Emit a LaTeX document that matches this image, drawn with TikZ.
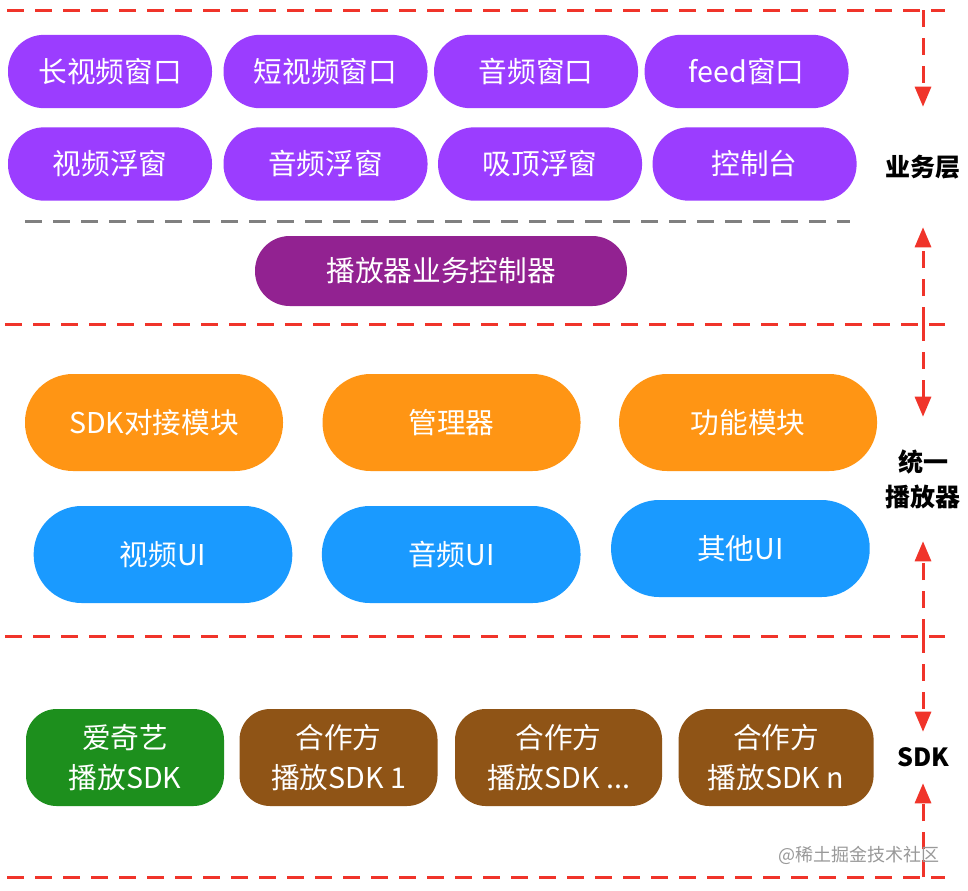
\documentclass[tikz,border=0pt]{standalone}
\usepackage{fontspec}
\setmainfont{Noto Sans CJK SC}
\usepackage{xcolor}
\usepackage{tikz}
\usetikzlibrary{arrows.meta, positioning}
\definecolor{bizpurple}{RGB}{155, 61, 255}
\definecolor{ctrlpurple}{RGB}{146, 34, 145}
\definecolor{coreorange}{RGB}{255, 149, 20}
\definecolor{uiblue}{RGB}{26, 154, 255}
\definecolor{iqgreen}{RGB}{29, 143, 29}
\definecolor{partnerbrown}{RGB}{143, 84, 22}
\definecolor{dashred}{RGB}{240, 52, 42}
\definecolor{dashgrey}{RGB}{128, 128, 128}

\begin{document}
\begin{tikzpicture}[x=0.75pt, y=-0.75pt,
    every node/.style={font=\fontsize{21.5}{30}\selectfont, text=white},
    pill/.style={rectangle, rounded corners=#1, inner sep=0pt, align=center},
    bizbox/.style={pill=27pt, fill=bizpurple, minimum width=153pt, minimum height=55pt},
    ctrlbox/.style={pill=26pt, fill=ctrlpurple, minimum width=279pt, minimum height=52.5pt},
    corebox/.style={pill=36pt, fill=coreorange, minimum width=193.5pt, minimum height=72.75pt},
    uibox/.style={pill=36pt, fill=uiblue, minimum width=194pt, minimum height=72.75pt},
    sdkbox/.style={pill=23pt, fill=partnerbrown, minimum width=148.5pt, minimum height=72.75pt},
    layerlabel/.style={inner sep=0pt, align=center, text=black, font=\bfseries\fontsize{18.75}{26.25}\selectfont},
    layerline/.style={draw=dashred, line width=2.25pt, dash pattern=on 12.75pt off 8.25pt},
    layerarrow/.style={layerline, -{Triangle[length=15pt, width=12pt]}}
]
\fill[white] (0,0) rectangle (968,890);
\useasboundingbox (0,0) rectangle (968,890);

% layer boundaries
\coordinate (l0w) at (7,10);  \coordinate (l0e) at (945,10);
\coordinate (l1w) at (5,324); \coordinate (l1e) at (945,324);
\coordinate (l2w) at (5,636); \coordinate (l2e) at (945,636);
\coordinate (l3w) at (7,877); \coordinate (l3e) at (945,877);
\draw[layerline] (l0w) -- (l0e);
\draw[layerline] (l1w) -- (l1e);
\draw[layerline] (l2w) -- (l2e);
\draw[layerline] (l3w) -- (l3e);

% business layer: windows
\node[bizbox] (w1) at (110,71.5) {长视频窗口};
\node[bizbox, right=8.25pt of w1] (w2) {短视频窗口};
\node[bizbox, right=4.5pt of w2] (w3) {音频窗口};
\node[bizbox, right=4.5pt of w3] (w4) {feed窗口};

% business layer: floating windows
\node[bizbox] (f1) at (110,164) {视频浮窗};
\node[bizbox, right=8.25pt of f1] (f2) {音频浮窗};
\node[bizbox, right=7.5pt of f2] (f3) {吸顶浮窗};
\node[bizbox, right=7.5pt of f3] (f4) {控制台};

\coordinate (gw) at (25,221); \coordinate (ge) at (850,221);
\draw[draw=dashgrey, line width=2.25pt, dash pattern=on 12.75pt off 8.25pt] (gw) -- (ge);

\node[ctrlbox] (ctrl) at (441,271) {播放器业务控制器};

% unified player: modules
\node[corebox] (m1) at (154,422.5) {SDK对接模块};
\node[corebox, right=29.25pt of m1] (m2) {管理器};
\node[corebox, right=28.5pt of m2] (m3) {功能模块};

% unified player: UI
\node[uibox] (u1) at (163,554.5) {视频UI};
\node[uibox, right=21.75pt of u1] (u2) {音频UI};
\node[uibox, right=22.5pt of u2, yshift=4.5pt] (u3) {其他UI};

% SDK layer
\node[sdkbox, fill=iqgreen] (s1) at (125,757.5) {爱奇艺\\播放SDK};
\node[sdkbox, right=11.25pt of s1] (s2) {合作方\\播放SDK 1};
\node[sdkbox, right=12.75pt of s2, minimum width=155.25pt] (s3) {合作方\\播放SDK ...};
\node[sdkbox, right=12pt of s3, minimum width=146.25pt] (s4) {合作方\\播放SDK n};

% layer labels and arrows
\node[layerlabel, minimum height=90pt] (lb1) at (923,167) {业务层};
\node[layerlabel, minimum height=93pt] (lb2) at (923,479) {统一\\播放器};
\node[layerlabel, minimum height=38.25pt] (lb3) at (923,757.5) {SDK};
\coordinate (v0) at (923,10);
\coordinate (v1) at (923,324);
\coordinate (v2) at (923,636);
\coordinate (v3) at (923,877);
\draw[layerarrow] (v0) -- (lb1.north);
\draw[layerarrow] (v1) -- (lb1.south);
\draw[layerarrow] (v1) -- (lb2.north);
\draw[layerarrow] (v2) -- (lb2.south);
\draw[layerarrow] (v2) -- (lb3.north);
\draw[layerarrow] (v3) -- (lb3.south);

\node[text=black!40, font=\fontsize{13.5}{16}\selectfont] (wm) at (859,855) {@稀土掘金技术社区};

\end{tikzpicture}
\end{document}
